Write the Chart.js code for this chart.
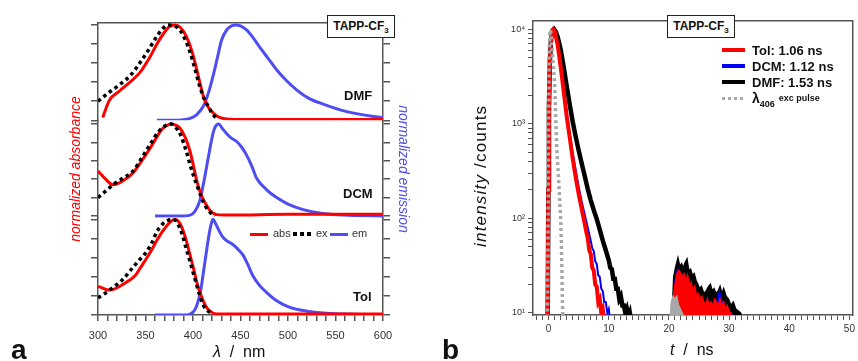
<!DOCTYPE html>
<html>
<head>
<meta charset="utf-8">
<script src="https://cdn.jsdelivr.net/npm/chart.js@4.4.1/dist/chart.umd.min.js"></script>
<style>
  html, body { margin: 0; padding: 0; background: #fff; }
  #wrap { position: relative; width: 858px; height: 361px; overflow: hidden;
          font-family: 'Liberation Sans', Arial, sans-serif; color: #111; }
  canvas { position: absolute; top: 0; }
  #spec { left: 0; }
  #decay { left: 429px; }
  .lbl { position: absolute; white-space: nowrap; line-height: 1; }
  .box { position: absolute; box-sizing: border-box; border: 1.5px solid #222; background: #fff;
         font-weight: bold; font-size: 12px; line-height: 20px; text-align: center; white-space: nowrap; }
  .box sub { font-size: 8px; vertical-align: -3px; line-height: 0; }
  .sw { position: absolute; height: 3px; }
  .lg { position: absolute; white-space: nowrap; line-height: 1; font-weight: bold; font-size: 13px; }
</style>
</head>
<body>
<div id="wrap">
  <canvas id="spec" width="429" height="361"></canvas>
  <canvas id="decay" width="429" height="361"></canvas>

  <div class="box" style="left:327px;top:15px;width:68px;height:23px;">TAPP-CF<sub>3</sub></div>
  <div class="lbl" style="left:344px;top:89px;font-weight:bold;font-size:13px;">DMF</div>
  <div class="lbl" style="left:343px;top:187px;font-weight:bold;font-size:13px;">DCM</div>
  <div class="lbl" style="left:353px;top:290px;font-weight:bold;font-size:13px;">Tol</div>

  <div class="sw" style="left:250px;top:233px;width:18px;background:#ff0000;"></div>
  <div class="lbl" style="left:273px;top:228px;font-size:11px;color:#333;">abs</div>
  <div class="sw" style="left:293px;top:232px;width:20px;height:4px;background:repeating-linear-gradient(90deg,#000 0 4px,transparent 4px 7px);"></div>
  <div class="lbl" style="left:316px;top:228px;font-size:11px;color:#333;">ex</div>
  <div class="sw" style="left:330px;top:233px;width:18px;background:#4d4df2;"></div>
  <div class="lbl" style="left:352px;top:228px;font-size:11px;color:#333;">em</div>

  <div class="lbl" style="left:213px;top:344px;font-size:16px;"><i>&lambda;</i>&nbsp; / &nbsp;nm</div>
  <div class="lbl" style="left:11px;top:336px;font-size:28px;font-weight:bold;">a</div>

  <div class="box" style="left:667px;top:15px;width:68px;height:23px;">TAPP-CF<sub>3</sub></div>
  <div class="sw" style="left:722px;top:48px;width:23px;height:4px;background:#ff0000;"></div>
  <div class="lg" style="left:752px;top:44px;">Tol: 1.06 ns</div>
  <div class="sw" style="left:722px;top:64px;width:23px;height:4px;background:#0000ff;"></div>
  <div class="lg" style="left:752px;top:60px;">DCM: 1.12 ns</div>
  <div class="sw" style="left:722px;top:80px;width:23px;height:4px;background:#000;"></div>
  <div class="lg" style="left:752px;top:76px;">DMF: 1.53 ns</div>
  <div class="sw" style="left:722px;top:97px;width:23px;height:3px;background:repeating-linear-gradient(90deg,#aaa 0 3px,transparent 3px 6px);"></div>
  <div class="lg" style="left:752px;top:91px;font-size:14px;">&lambda;<sub style="font-size:9px;vertical-align:-4px;">406</sub> <span style="font-size:9px;vertical-align:2px;">exc pulse</span></div>

  <div class="lbl" style="left:472px;top:247px;font-size:17px;letter-spacing:1.2px;transform:rotate(-90deg);transform-origin:0 0;"><i>intensity</i> /counts</div>
  <div class="lbl" style="left:670px;top:342px;font-size:16px;"><i>t</i>&nbsp; / &nbsp;ns</div>
  <div class="lbl" style="left:442px;top:336px;font-size:28px;font-weight:bold;">b</div>
</div>

<script>
const FONT = "'Liberation Sans', Arial, sans-serif";
const RED = '#ff0000';
const EM_BLUE = '#4d4df2';
const AXIS = '#555';

// ---- panel a: normalized spectra (nm, value) ----
const dmfAbsNm = [305, 312, 323, 337, 344, 355, 362, 369, 375, 381, 387, 393, 399, 404, 411, 416, 421, 426, 432, 450, 500, 550, 600];
const dmfAbs   = [0.03, 0.21, 0.31, 0.43, 0.50, 0.67, 0.80, 0.91, 0.98, 1.0, 0.97, 0.88, 0.72, 0.53, 0.25, 0.14, 0.08, 0.04, 0.02, 0.01, 0.01, 0.01, 0.01];
const dmfExNm  = [300, 310, 323, 335, 344, 352, 362, 368, 374, 380, 386, 392, 397, 402, 407, 412, 416, 421, 427];
const dmfEx    = [0.20, 0.28, 0.375, 0.48, 0.60, 0.72, 0.88, 0.96, 1.0, 0.99, 0.95, 0.84, 0.71, 0.54, 0.36, 0.22, 0.15, 0.06, 0.01];
const dmfEmNm  = [362, 380, 397, 404, 411, 416, 421, 426, 430, 435, 439, 444, 450, 456, 463, 470, 479, 488, 498, 509, 522, 537, 555, 572, 590, 600];
const dmfEm    = [0, 0, 0.02, 0.06, 0.15, 0.28, 0.46, 0.67, 0.84, 0.94, 0.98, 1.0, 0.99, 0.95, 0.87, 0.77, 0.65, 0.53, 0.42, 0.32, 0.23, 0.17, 0.11, 0.07, 0.04, 0.03];

const dcmAbsNm = [300, 308, 316, 326, 337, 346, 355, 362, 367, 372, 376, 381, 386, 392, 397, 401, 404, 409, 413, 418, 425, 440, 500, 600];
const dcmAbs   = [0.49, 0.40, 0.34, 0.38, 0.47, 0.60, 0.74, 0.86, 0.94, 0.98, 1.0, 0.99, 0.96, 0.85, 0.70, 0.52, 0.38, 0.22, 0.14, 0.06, 0.015, 0.01, 0.02, 0.02];
const dcmExNm  = [300, 308, 316, 326, 337, 346, 355, 364, 372, 377, 381, 387, 393, 398, 404, 409, 413, 418, 423];
const dcmEx    = [0.20, 0.27, 0.34, 0.41, 0.49, 0.63, 0.78, 0.92, 0.99, 1.0, 0.97, 0.88, 0.70, 0.52, 0.34, 0.20, 0.11, 0.04, 0.0];
const dcmEmNm  = [360, 385, 397, 402, 407, 411, 416, 420, 423, 427, 431, 435, 440, 446, 451, 456, 462, 467, 477, 488, 500, 516, 535, 558, 600];
const dcmEm    = [0, 0, 0.01, 0.05, 0.16, 0.35, 0.63, 0.85, 0.96, 1.0, 0.95, 0.90, 0.85, 0.81, 0.75, 0.67, 0.54, 0.41, 0.29, 0.20, 0.13, 0.07, 0.03, 0.01, 0];

const tolAbsNm = [300, 305, 311, 317, 323, 331, 339, 345, 351, 357, 362, 369, 376, 381, 386, 390, 394, 397, 401, 404, 409, 413, 418, 425, 440, 600];
const tolAbs   = [0.30, 0.28, 0.26, 0.27, 0.30, 0.35, 0.41, 0.50, 0.59, 0.69, 0.78, 0.89, 0.97, 1.0, 0.96, 0.87, 0.74, 0.62, 0.47, 0.34, 0.19, 0.10, 0.04, 0.01, 0.01, 0.01];
const tolExNm  = [300, 308, 316, 326, 337, 344, 351, 357, 362, 368, 374, 379, 383, 388, 393, 398, 402, 407, 411, 416, 421];
const tolEx    = [0.18, 0.23, 0.29, 0.37, 0.50, 0.58, 0.66, 0.76, 0.87, 0.95, 0.99, 1.0, 0.97, 0.86, 0.69, 0.52, 0.38, 0.21, 0.10, 0.04, 0.01];
const tolEmNm  = [360, 390, 397, 401, 404, 408, 411, 415, 418, 421, 424, 428, 431, 435, 440, 444, 448, 453, 458, 463, 470, 477, 488, 502, 520, 537, 560, 600];
const tolEm    = [0, 0, 0.01, 0.04, 0.10, 0.25, 0.45, 0.72, 0.90, 1.0, 0.95, 0.87, 0.82, 0.78, 0.75, 0.72, 0.68, 0.62, 0.52, 0.41, 0.31, 0.24, 0.15, 0.08, 0.04, 0.02, 0.01, 0];

// ---- panel b: decays (ns, counts) ----
const excT = [-0.4, -0.2, -0.1, 0.0, 0.1, 0.2, 0.35, 0.5, 0.7, 0.9, 1.0, 1.1, 1.2, 1.35, 1.5, 1.7, 1.85, 2.0, 2.1, 2.2, 2.3, 2.4];
const exc  = [5, 8, 60, 1000, 6000, 9800, 9500, 7000, 4800, 3300, 2600, 1700, 1000, 560, 380, 230, 150, 100, 60, 30, 12, 8];
const tolT = [-0.3, -0.15, -0.05, 0.05, 0.2, 0.4, 0.6, 0.8, 1.0, 1.5, 2.0, 2.5, 3.0, 3.5, 4.0, 4.5, 5.0, 5.5, 6.0, 6.25, 6.5, 6.75, 7.0, 7.25, 7.5, 7.75, 8.0, 8.25, 8.5, 8.75, 9.0, 9.25];
const tol  = [5, 9, 200, 1500, 4500, 7800, 9600, 10000, 9600, 6800, 4000, 2200, 1200, 720, 430, 270, 180, 125, 88, 72, 62, 46, 42, 30, 28, 20, 19, 13, 14, 10, 11, 8];
const dcmT = [-0.3, -0.15, -0.05, 0.05, 0.2, 0.4, 0.6, 0.8, 1.0, 1.5, 2.0, 2.5, 3.0, 3.5, 4.0, 4.5, 5.0, 5.5, 6.0, 6.5, 7.0, 7.25, 7.5, 7.75, 8.0, 8.25, 8.5, 8.75, 9.0, 9.25, 9.5, 9.75, 10.0, 10.25];
const dcm  = [5, 9, 200, 1500, 4500, 7800, 9600, 10000, 9700, 7000, 4300, 2400, 1350, 800, 490, 320, 215, 150, 110, 80, 58, 48, 45, 35, 33, 25, 24, 18, 17, 13, 13, 10, 11, 8];
const dmfT = [-0.3, -0.15, -0.05, 0.05, 0.2, 0.4, 0.6, 0.9, 1.2, 1.5, 2.0, 2.5, 3.0, 3.5, 4.0, 4.5, 5.0, 5.5, 6.0, 6.5, 7.0, 7.5, 8.0, 8.5, 9.0, 9.5, 10.0, 10.25, 10.5, 10.75, 11.0, 11.25, 11.5, 11.75, 12.0, 12.25, 12.5, 12.75, 13.0, 13.25, 13.5, 13.75];
const dmf  = [5, 9, 200, 1500, 4500, 7800, 9600, 10000, 9400, 8300, 6100, 4000, 2500, 1600, 1050, 730, 520, 380, 280, 205, 155, 122, 98, 76, 58, 46, 36, 30, 29, 23, 23, 18, 18, 14, 15, 12, 12, 10, 11, 9, 10, 8];

// second (reflection) pulse around 20-32 ns
const excBumpT = [20.2, 20.4, 20.7, 21.0, 21.3, 21.6, 21.9, 22.2, 22.5];
const excBump  = [9, 13, 15, 14, 15, 12, 11, 10, 9];
const tolBumpT = [20.4, 20.7, 21.0, 21.3, 21.6, 21.9, 22.2, 22.5, 22.8, 23.1, 23.4, 23.7, 24.0, 24.3, 24.6, 24.9, 25.2, 25.5, 25.8, 26.1, 26.4, 26.7, 27.0, 27.3, 27.6, 27.9, 28.2, 28.5, 28.8, 29.1, 29.4, 29.7, 30.0, 30.3, 30.6];
const tolBump  = [9, 14, 20, 26, 28, 27, 24, 26, 22, 25, 20, 21, 17, 19, 15, 16, 14, 15, 13, 12, 14, 12, 13, 12, 14, 13, 12, 14, 12, 13, 11, 12, 10.5, 10, 9];
const dcmBumpT = [20.4, 20.8, 21.2, 21.5, 21.8, 22.2, 22.8, 23.4, 24.0, 24.8, 25.6, 26.4, 27.2, 28.0, 28.4, 28.7, 29.0, 29.6, 30.2, 30.8];
const dcmBump  = [9, 16, 26, 29, 25, 23, 21, 19, 16, 14, 12, 12, 12, 13, 17, 14, 12, 11, 10, 9];
const dmfBumpT = [20.5, 20.8, 21.1, 21.5, 21.8, 22.1, 22.4, 22.7, 23.0, 23.3, 23.6, 23.9, 24.2, 24.5, 24.8, 25.1, 25.4, 25.8, 26.2, 26.6, 26.9, 27.2, 27.5, 27.8, 28.2, 28.5, 28.8, 29.1, 29.5, 29.9, 30.3, 30.7, 31.1, 31.5, 31.9, 32.2];
const dmfBump  = [9, 24, 30, 38, 31, 33, 30, 34, 37, 28, 29, 25, 26, 22, 20, 18, 19, 16, 17, 19, 20, 17, 18, 16, 17, 19, 16, 18, 15, 14, 12, 13, 11, 10.5, 10, 9];

// log axis ticks: decades (labelled) and the 2..9 minors between them
const decades = [10, 100, 1000, 10000];
const minorSteps = [2, 3, 4, 5, 6, 7, 8, 9];
const SUP = { 1: '\u00b9', 2: '\u00b2', 3: '\u00b3', 4: '\u2074' };

function pts(xs, ys) {
  return xs.map((x, i) => ({ x: x, y: ys[i] }));
}

function specLine(xs, ys, color, axis, dotted) {
  return {
    data: pts(xs, ys),
    yAxisID: axis,
    borderColor: color,
    borderWidth: dotted ? 3.5 : 3,
    borderDash: dotted ? [3.5, 3.5] : [],
    borderCapStyle: 'butt',
    pointRadius: 0,
    tension: 0.4,
    cubicInterpolationMode: 'monotone',
    fill: false,
  };
}

function decayLine(xs, ys, color, width, dotted, filled) {
  return {
    data: pts(xs, ys),
    borderColor: color,
    backgroundColor: color,
    borderWidth: width,
    borderDash: dotted ? [3, 3] : [],
    borderCapStyle: 'butt',
    pointRadius: 0,
    tension: 0,
    fill: filled ? 'start' : false,
  };
}

function logTicks(scale) {
  const t = [];
  decades.forEach(d => {
    t.push({ value: d });
    if (d < 10000) minorSteps.forEach(m => t.push({ value: d * m }));
  });
  scale.ticks = t;
}

function stackAxis(pos, stack, min, max, title) {
  return {
    type: 'linear', position: pos, stack: stack, stackWeight: 1,
    min: min, max: max,
    afterFit: s => { s.width = pos === 'left' ? 98 : 46; },
    ticks: { display: false, stepSize: 0.2, includeBounds: false },
    grid: { display: true, drawOnChartArea: false, drawTicks: true, tickLength: 7, color: AXIS, lineWidth: 1.5 },
    border: { display: true, color: AXIS, width: 1.5 },
    title: title || { display: false },
  };
}

function initSpectra() {
  const ctx = document.getElementById('spec').getContext('2d');
  new Chart(ctx, {
    type: 'line',
    data: {
      datasets: [
        specLine(dmfExNm, dmfEx, '#000', 'aDMF', true),
        specLine(dmfAbsNm, dmfAbs, RED, 'aDMF', false),
        specLine(dmfEmNm, dmfEm, EM_BLUE, 'eDMF', false),
        specLine(dcmExNm, dcmEx, '#000', 'aDCM', true),
        specLine(dcmAbsNm, dcmAbs, RED, 'aDCM', false),
        specLine(dcmEmNm, dcmEm, EM_BLUE, 'eDCM', false),
        specLine(tolExNm, tolEx, '#000', 'aTol', true),
        specLine(tolAbsNm, tolAbs, RED, 'aTol', false),
        specLine(tolEmNm, tolEm, EM_BLUE, 'eTol', false),
      ]
    },
    options: {
      responsive: false,
      animation: false,
      layout: { padding: 0 },
      plugins: { legend: { display: false }, tooltip: { enabled: false } },
      scales: {
        x: {
          type: 'linear', position: 'bottom', min: 300, max: 600,
          afterFit: s => { s.height = 46; },
          ticks: { stepSize: 10, autoSkip: false, maxRotation: 0, padding: 8, color: '#333',
                   font: { family: FONT, size: 11 }, callback: v => (v % 50 === 0 ? v : '') },
          grid: { display: true, drawOnChartArea: false, tickLength: 6, color: AXIS, lineWidth: 1.5 },
          border: { display: true, color: AXIS, width: 1.5 },
        },
        xTop: {
          type: 'linear', position: 'top', min: 300, max: 600,
          afterFit: s => { s.height = 23; },
          ticks: { display: false },
          grid: { display: false, drawTicks: false },
          border: { display: true, color: AXIS, width: 1.5 },
        },
        // left stack is laid out last-defined on top
        aTol: stackAxis('left', 'abs', 0, 1.017),
        aDCM: stackAxis('left', 'abs', -0.018, 1.04, {
          display: true, text: 'normalized absorbance', color: RED,
          font: { family: FONT, size: 14, style: 'italic' }, padding: { top: 68, bottom: 0 }
        }),
        aDMF: stackAxis('left', 'abs', 0, 1.02),
        eDMF: stackAxis('right', 'em', 0, 1.02),
        eDCM: stackAxis('right', 'em', -0.018, 1.04, {
          display: true, text: 'normalized emission', color: EM_BLUE,
          font: { family: FONT, size: 14, style: 'italic' }, padding: { top: 18, bottom: 0 }
        }),
        eTol: stackAxis('right', 'em', 0, 1.017),
      }
    }
  });
}

function initDecays() {
  const ctx = document.getElementById('decay').getContext('2d');
  new Chart(ctx, {
    type: 'line',
    data: {
      datasets: [
        decayLine(excT, exc, '#a8a8a8', 3.5, true, false),
        decayLine(excBumpT, excBump, '#a8a8a8', 1.5, false, true),
        decayLine(tolT, tol, RED, 4, false, false),
        decayLine(tolBumpT, tolBump, RED, 1.5, false, true),
        decayLine(dcmT, dcm, '#0000ff', 2, false, false),
        decayLine(dcmBumpT, dcmBump, '#0000ff', 1.5, false, true),
        decayLine(dmfT, dmf, '#000', 4.5, false, false),
        decayLine(dmfBumpT, dmfBump, '#000', 1.5, false, true),
      ]
    },
    options: {
      responsive: false,
      animation: false,
      layout: { padding: 0 },
      plugins: { legend: { display: false }, tooltip: { enabled: false } },
      scales: {
        x: {
          type: 'linear', position: 'bottom', min: -2.6, max: 50.5,
          afterFit: s => { s.height = 46; },
          ticks: { stepSize: 1, includeBounds: false, autoSkip: false, maxRotation: 0, padding: 3, color: '#333',
                   font: { family: FONT, size: 10 }, callback: v => (v % 10 === 0 ? v : '') },
          grid: { display: true, drawOnChartArea: false, tickLength: 5, color: AXIS, lineWidth: 1 },
          border: { display: true, color: AXIS, width: 1.5 },
        },
        xTop: {
          type: 'linear', position: 'top', min: -2.6, max: 50.5,
          afterFit: s => { s.height = 21; },
          ticks: { display: false },
          grid: { display: false, drawTicks: false },
          border: { display: true, color: AXIS, width: 1.5 },
        },
        y: {
          type: 'logarithmic', position: 'left', min: 9.5, max: 12200,
          afterFit: s => { s.width = 104; },
          afterBuildTicks: logTicks,
          ticks: {
            autoSkip: false, padding: 3, color: '#333', font: { family: FONT, size: 9 },
            callback: v => {
              const i = decades.indexOf(v);
              return i >= 0 ? '10' + SUP[i + 1] : '';
            }
          },
          grid: { display: true, drawOnChartArea: false, tickLength: 5, color: AXIS, lineWidth: 1 },
          border: { display: true, color: AXIS, width: 1.5 },
        },
        yRight: {
          type: 'logarithmic', position: 'right', min: 9.5, max: 12200,
          afterFit: s => { s.width = 2; },
          ticks: { display: false },
          grid: { display: false, drawTicks: false },
          border: { display: true, color: AXIS, width: 1.5 },
        },
      }
    }
  });
}

initSpectra();
initDecays();
</script>
</body>
</html>
